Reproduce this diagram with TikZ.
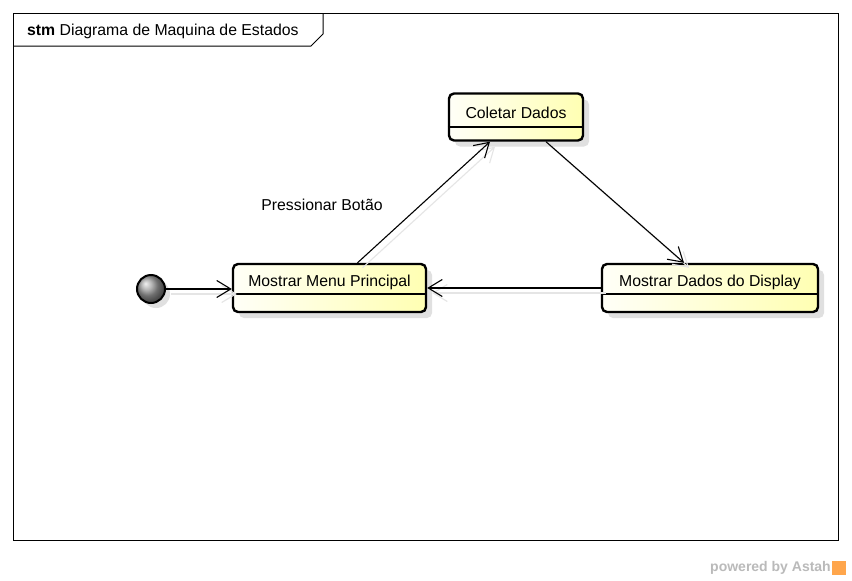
\documentclass[tikz,border=0pt]{standalone}
\usepackage{fontspec}
\setmainfont{Liberation Sans}
\usetikzlibrary{arrows.meta,shadows}
\begin{document}
\begin{tikzpicture}[x=1pt,y=-1pt]
			\tikzstyle{etat}=[draw,line width=2.4pt,rounded corners=5pt,left color=yellow!3,right color=yellow!30,inner sep=0pt,drop shadow={shadow xshift=6pt,shadow yshift=-6pt,fill=black!12,opacity=1}]
			\tikzstyle{texte}=[font=\fontsize{15.8}{18}\selectfont,inner sep=0pt]
			\tikzstyle{fleche}=[line width=1.1pt,-{Straight Barb[length=14pt,width=17pt]}]
			\tikzstyle{ombre}=[fleche,black!10,transform canvas={xshift=5pt,yshift=-5pt}]
			\tikzstyle{separe}=[line width=1.3pt]
			\def\NiveauHaut{117}
			\def\NiveauBas{288}
			\useasboundingbox[fill=white] (0,0) rectangle (852,581);
			% cadre
			\draw[line width=1pt] (13,13) rectangle (838,540);
			\draw[line width=1pt] (13,46) -- (311,46) -- (323,34) -- (323,13);
			\node[texte,anchor=west] (titre) at (27,31) {\textbf{stm} Diagrama de Maquina de Estados};
			% etats
			\node[draw,line width=2pt,circle,minimum size=28pt,inner sep=0pt,shading=ball,ball color=black!38,drop shadow={shadow xshift=5pt,shadow yshift=-5pt,fill=black!12,opacity=1}] (init) at (151,{\NiveauBas+1}) {};
			\node[etat,minimum width=193pt,minimum height=48pt] (menu) at (329.5,\NiveauBas) {};
			\node[etat,minimum width=134pt,minimum height=47pt] (coleta) at (516,\NiveauHaut) {};
			\node[etat,minimum width=216pt,minimum height=48pt] (display) at (710,\NiveauBas) {};
			\node[texte] (menuT) at (329.5,{\NiveauBas-6}) {Mostrar Menu Principal};
			\node[texte] (coletaT) at (516,{\NiveauHaut-4}) {Coletar Dados};
			\node[texte] (displayT) at (710,{\NiveauBas-6}) {Mostrar Dados do Display};
			\draw[separe] (menu.west) ++(0,6) -- ++(193,0);
			\draw[separe] (coleta.west) ++(0,10) -- ++(134,0);
			\draw[separe] (display.west) ++(0,6) -- ++(216,0);
			% transitions
			\draw[ombre] (init) -- (menu.west |- init);
			\draw[ombre] ([xshift=28pt]menu.north) -- ([xshift=-26pt]coleta.south);
			\draw[ombre] ([xshift=30pt]coleta.south) -- ([xshift=-26pt]display.north);
			\draw[ombre] (display.west) -- (menu.east);
			\draw[fleche] (init) -- (menu.west |- init);
			\draw[fleche] ([xshift=28pt]menu.north) -- ([xshift=-26pt]coleta.south);
			\draw[fleche] ([xshift=30pt]coleta.south) -- ([xshift=-26pt]display.north);
			\draw[fleche] (display.west) -- (menu.east);
			\node[texte] (evt) at (322,205) {Pressionar Botão};
			% logo
			\node[anchor=east,text=black!27,font=\fontsize{14}{16}\selectfont\bfseries,inner sep=0pt] (astah) at (831,568) {powered by Astah};
			\node[fill=orange!70,minimum size=14pt,inner sep=0pt] (logo) at (839,568) {};
		\end{tikzpicture}
\end{document}
